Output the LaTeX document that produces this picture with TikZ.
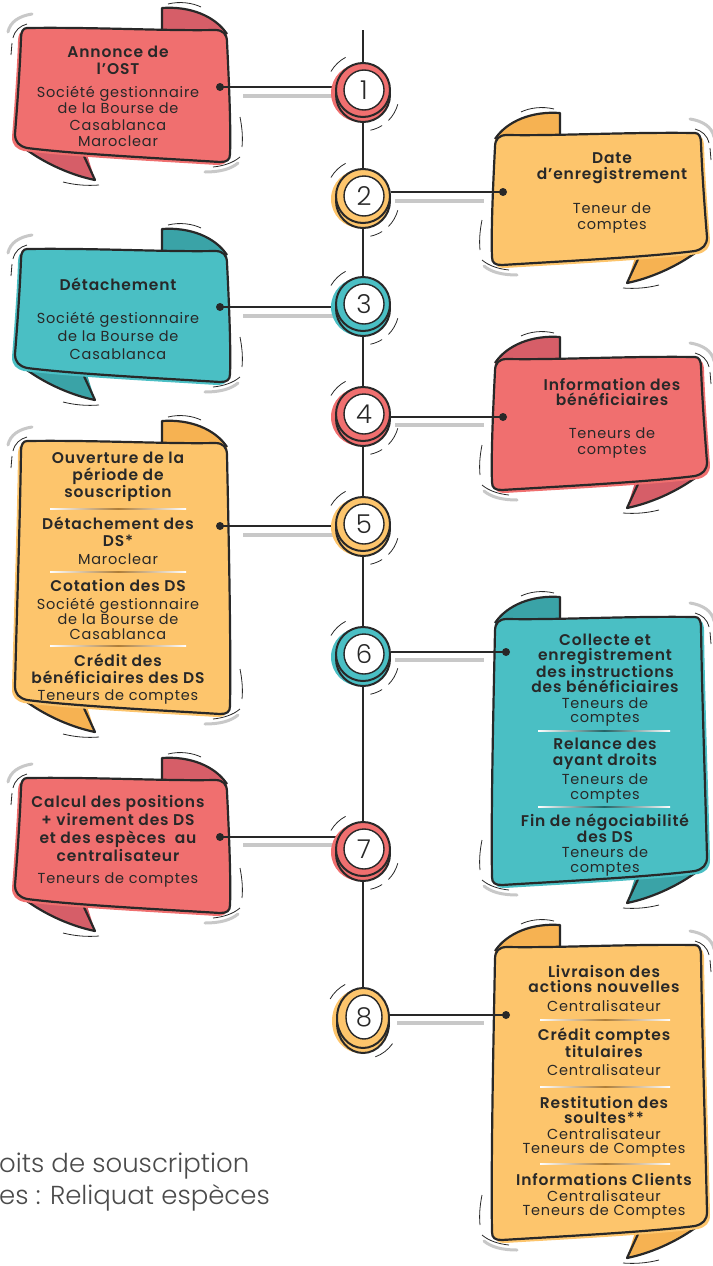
\documentclass[tikz,border=0pt]{standalone}
\usepackage{fontspec}
\setmainfont{Poppins}
\newfontfamily\tfont{Poppins}[LetterSpace=5.5,BoldFont={Poppins SemiBold}]
\newfontfamily\lightfont{Poppins Light}
\usetikzlibrary{shapes.geometric,calc}
\definecolor{ink}{RGB}{40,40,40}
\definecolor{rd}{RGB}{240,111,111}
\definecolor{rdk}{RGB}{214,94,104}
\definecolor{og}{RGB}{253,197,108}
\definecolor{ogk}{RGB}{246,178,82}
\definecolor{tl}{RGB}{74,191,196}
\definecolor{tlk}{RGB}{58,163,167}
\definecolor{shd}{RGB}{200,200,200}
\definecolor{note}{RGB}{75,75,75}
\pgfdeclarelayer{bg}
\pgfdeclarelayer{mid}
\pgfsetlayers{bg,mid,main}

\newcommand{\bodypath}[1]{(12,0) .. controls (80,-1) and (150,3) .. (200,2) .. controls (208,2) and (212,6) .. (212,14) .. controls (214,{0.4*#1}) and (216,{0.75*#1}) .. (215,{#1-8}) .. controls (215,{#1-2}) and (212,{#1}) .. (205,{#1}) .. controls (140,{#1-4}) and (60,{#1-8}) .. (12,{#1-14}) .. controls (4,{#1-16}) and (0,{#1-20}) .. (0,{#1-28}) .. controls (2,{0.6*#1}) and (5,{0.3*#1}) .. (6,10) .. controls (6,4) and (8,0) .. (12,0) -- cycle}

\newcommand{\bubble}[6]{%
\begin{scope}[shift={(#1,#2)},xscale=#4]
 \fill[#6] (147,2) -- (147,-20) .. controls (175,-22) and (200,-12) .. (212,6) -- (214,{#3-20}) -- (70,{#3-14}) -- (80,{#3+18}) .. controls (60,{#3+14}) and (30,{#3+3}) .. (4,{#3-18}) -- cycle;
 \draw[ink,line width=2.2pt,line join=round] (147,2) -- (147,-20) .. controls (175,-22) and (200,-12) .. (212,6);
 \draw[ink,line width=2.2pt,line join=round] (4,{#3-18}) .. controls (30,{#3+3}) and (60,{#3+14}) .. (80,{#3+18}) -- (68,{#3-8});
 \begin{scope}[shift={(-3,3)}]
  \fill[#5] \bodypath{#3};
 \end{scope}
 \fill[#5] \bodypath{#3};
 \draw[ink,line width=2.2pt,line join=round] \bodypath{#3};
 \draw[shd,line width=3pt,line cap=round] (-7,4) .. controls (-5,-6) and (4,-12) .. (17,-14);
 \draw[ink,line width=0.8pt] (-2,10) .. controls (0,2) and (5,-2) .. (12,-4);
 \draw[ink,line width=0.8pt] (-3,15) -- (-4,27);
 \draw[ink,line width=0.8pt] (153,-24) .. controls (165,-27) and (178,-25) .. (186,-21);
 \draw[ink,line width=0.8pt] (225,{#3-45}) .. controls (227,{#3-35}) and (228,{#3-25}) .. (227,{#3-15});
 \draw[ink,line width=0.8pt] (198,{#3+5}) .. controls (208,{#3+4}) and (218,{#3+1}) .. (225,{#3-5});
 \draw[shd,line width=3pt,line cap=round] (190,{#3+10}) .. controls (205,{#3+10}) and (216,{#3+7}) .. (223,{#3+1});
 \draw[ink,line width=0.8pt] (48,{#3+20}) .. controls (60,{#3+23}) and (72,{#3+24}) .. (84,{#3+23});
\end{scope}}

\newcommand{\ringnode}[5]{%
 \fill[#4] (#2-3,#3+3) circle (29pt);
 \draw[ink,line width=2pt,fill=#4] (#2,#3+5) circle (27pt);
 \node[circle,draw=ink,line width=2pt,fill=#4,minimum size=54pt,inner sep=0] (#1) at (#2,#3) {};
 \node[circle,draw=ink,line width=1.4pt,fill=white,minimum size=40pt,inner sep=0,font=\lightfont\fontsize{26}{26}\selectfont,text=ink] (#1n) at (#2+1,#3) {#5};
 \draw[ink,line width=0.8pt] ($(#2,#3)+(118:37pt)$) arc[start angle=118,end angle=150,radius=37pt];
 \draw[ink,line width=0.8pt] ($(#2,#3+5)+(-15:36pt)$) arc[start angle=-15,end angle=-45,radius=36pt];
 \draw[ink,line width=0.8pt] ($(#2,#3+5)+(-58:36pt)$) arc[start angle=-58,end angle=-78,radius=36pt];
}

\tikzset{
 ttl/.style={font=\tfont\bfseries\fontsize{15.5}{#1}\selectfont,align=center,text=ink,inner sep=0},
 ttl/.default=16,
 sub/.style={font=\tfont\fontsize{14.5}{#1}\selectfont,align=center,text=ink,inner sep=0},
 sub/.default=16,
 dotn/.style={circle,fill=ink,minimum size=8pt,inner sep=0},
 conn/.style={ink,line width=2pt},
 shadowline/.style={shd,line width=4pt},
}

\newcommand{\sepline}[4]{\shade[left color=#4!0!white,right color=#4!0!white,middle color=#4] (#1,#3-0.6) rectangle (#2,#3+0.6);}

\begin{document}
\begin{tikzpicture}[x=1pt,y=-1pt]
\useasboundingbox (0,0) rectangle (712,1266);

\begin{pgfonlayer}{bg}
\bubble{15}{28}{134}{1}{rd}{rdk}
\bubble{707}{133}{132}{-1}{og}{ogk}
\bubble{15}{249}{133}{1}{tl}{tlk}
\bubble{707}{357}{133}{-1}{rd}{rdk}
\bubble{15}{441}{273}{1}{og}{ogk}
\bubble{707}{617}{268}{-1}{tl}{tlk}
\bubble{15}{778}{135}{1}{rd}{rdk}
\bubble{707}{945}{295}{-1}{og}{ogk}
\end{pgfonlayer}

% rings
\ringnode{c1}{363}{90}{rd}{1}
\ringnode{c2}{363}{196}{og}{2}
\ringnode{c3}{363}{304}{tl}{3}
\ringnode{c4}{363}{414}{rd}{4}
\ringnode{c5}{363}{524}{og}{5}
\ringnode{c6}{363}{654}{tl}{6}
\ringnode{c7}{363}{849}{rd}{7}
% ring 8 (oval)
\fill[og] (360,1021) ellipse (28pt and 32pt);
\draw[ink,line width=2pt,fill=og] (363,1023) ellipse (26pt and 30pt);
\node[ellipse,draw=ink,line width=2pt,fill=og,minimum width=52pt,minimum height=60pt,inner sep=0] (c8) at (363,1018) {};
\node[ellipse,draw=ink,line width=1.4pt,fill=white,minimum width=36pt,minimum height=44pt,inner sep=0,font=\lightfont\fontsize{26}{26}\selectfont,text=ink] (c8n) at (364,1017) {8};
\draw[ink,line width=0.8pt] ($(363,1018)+(118:38pt)$) arc[start angle=118,end angle=150,radius=38pt];
\draw[ink,line width=0.8pt] ($(363,1023)+(-35:36pt)$) arc[start angle=-35,end angle=-70,radius=36pt];

\coordinate (top) at (363,30);

% dots
\node[dotn] (d1) at (220,87) {};
\node[dotn] (d2) at (503,192) {};
\node[dotn] (d3) at (220,307) {};
\node[dotn] (d4) at (503,417) {};
\node[dotn] (d5) at (220,526) {};
\node[dotn] (d6) at (506,652) {};
\node[dotn] (d7) at (220,837) {};
\node[dotn] (d8) at (506,1015) {};

\begin{pgfonlayer}{mid}
\draw[shadowline] (243,96) -- (333,96);
\draw[shadowline] (395,201) -- (484,201);
\draw[shadowline] (243,316) -- (333,316);
\draw[shadowline] (395,425) -- (484,425);
\draw[shadowline] (243,535) -- (333,535);
\draw[shadowline] (395,660) -- (484,660);
\draw[shadowline] (243,845) -- (333,845);
\draw[shadowline] (397,1023) -- (484,1023);
\draw[conn] (top) -- (c1);
\draw[conn] (c1) -- (c2);
\draw[conn] (c2) -- (c3);
\draw[conn] (c3) -- (c4);
\draw[ink,line width=1.6pt] (c4) -- (c5);
\draw[ink,line width=1.6pt] (c5) -- (c6);
\draw[ink,line width=1.6pt] (c6) -- (c7);
\draw[conn] (c7) -- (c8);
\draw[conn] (d1.center) -- (d1 -| c1.west);
\draw[conn] (c2.east |- d2) -- (d2.center);
\draw[conn] (d3.center) -- (d3 -| c3.west);
\draw[conn] (c4.east |- d4) -- (d4.center);
\draw[conn] (d5.center) -- (d5 -| c5.west);
\draw[conn] (c6.east |- d6) -- (d6.center);
\draw[conn] (d7.center) -- ([xshift=3pt]d7 -| c7.west);
\draw[conn] (c8.east |- d8) -- (d8.center);
\end{pgfonlayer}

% separators
\sepline{50}{186}{509}{ogk!70!black}
\sepline{50}{186}{572}{ogk!70!black}
\sepline{50}{186}{646}{ogk!70!black}
\sepline{538}{670}{731}{tlk!60!black}
\sepline{538}{670}{807}{tlk!60!black}
\sepline{540}{670}{1020}{ogk!70!black}
\sepline{540}{670}{1087}{ogk!70!black}
\sepline{540}{670}{1164}{ogk!70!black}

% texts
\node[ttl=17] (t1) at (118,60.5) {Annonce de\\l’OST};
\node[sub=16.3] (s1) at (118,116.5) {Société gestionnaire\\de la Bourse de\\Casablanca\\Maroclear};

\node[ttl=16] (t2) at (612,168) {Date\\d’enregistrement};
\node[sub=16] (s2) at (612,218) {Teneur de\\comptes};

\node[ttl] (t3) at (118,284) {Détachement};
\node[sub=18] (s3) at (118,336) {Société gestionnaire\\de la Bourse de\\Casablanca};

\node[ttl=15] (t4) at (612,391.5) {Information des\\bénéficiaires};
\node[sub=16] (s4) at (612,443) {Teneurs de\\comptes};

\node[ttl=17] (t5a) at (118,477) {Ouverture de la\\période de\\souscription};
\node[ttl=17] (t5b) at (118,531.5) {Détachement des\\DS*};
\node[sub] (s5b) at (118,559) {Maroclear};
\node[ttl] (t5c) at (118,585) {Cotation des DS};
\node[sub=15] (s5c) at (118,619) {Société gestionnaire\\de la Bourse de\\Casablanca};
\node[ttl=17] (t5d) at (118,668.5) {Crédit des\\bénéficiaires des DS};
\node[sub] (s5d) at (118,697) {Teneurs de comptes};

\node[ttl=15] (t6a) at (605,663.5) {Collecte et\\enregistrement\\des instructions\\des bénéficiaires};
\node[sub=14.5] (s6a) at (605,712) {Teneurs de\\comptes};
\node[ttl=16] (t6b) at (605,754) {Relance des\\ayant droits};
\node[sub=15] (s6b) at (605,788.5) {Teneurs de\\comptes};
\node[ttl=16] (t6c) at (605,828) {Fin de négociabilité\\des DS};
\node[sub=15] (s6c) at (605,861.5) {Teneurs de\\comptes};

\node[ttl=17.7] (t7) at (118,828.5) {Calcul des positions\\+ virement des DS\\et des espèces\ \ au\\centralisateur};
\node[sub] (s7) at (118,880) {Teneurs de comptes};

\node[ttl=15] (t8a) at (604,978.5) {Livraison des\\actions nouvelles};
\node[sub] (s8a) at (604,1006) {Centralisateur};
\node[ttl=15] (t8b) at (604,1042.5) {Crédit comptes\\titulaires};
\node[sub] (s8b) at (604,1070) {Centralisateur};
\node[ttl=15] (t8c) at (604,1109.5) {Restitution des\\soultes**};
\node[sub=14] (s8c) at (604,1143) {Centralisateur\\Teneurs de Comptes};
\node[ttl] (t8d) at (604,1179) {Informations Clients};
\node[sub=14] (s8d) at (604,1205) {Centralisateur\\Teneurs de Comptes};

% footnotes (cut at the left edge)
\node[anchor=west,inner sep=0,font=\lightfont\fontsize{26}{26}\selectfont,text=note] (n1) at (-1,1166) {oits de souscription};
\node[anchor=west,inner sep=0,font=\lightfont\fontsize{26}{26}\selectfont,text=note] (n2) at (-1,1198) {es : Reliquat espèces};
\end{tikzpicture}
\end{document}
